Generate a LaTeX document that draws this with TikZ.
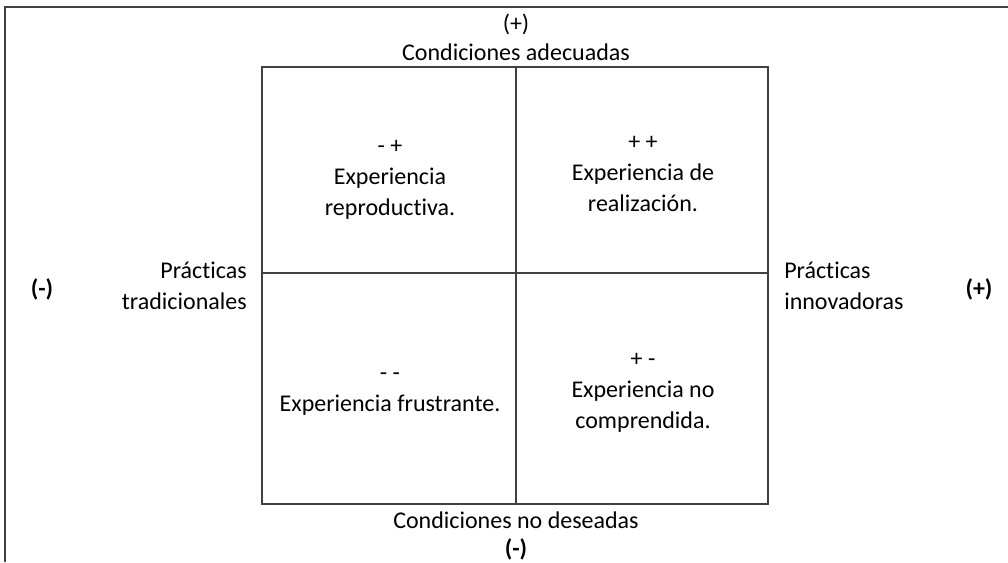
\documentclass[tikz,border=0pt]{standalone}
\usepackage{fontspec}
\setmainfont{Carlito}[Ligatures={NoCommon}]
\usepackage{tikz}
\usetikzlibrary{positioning}

\begin{document}
\begin{tikzpicture}[
    x=0.75pt, y=-0.75pt,
    txt/.style={font=\fontsize{18}{23.3}\selectfont, align=center, inner sep=0pt},
    sign/.style={txt, font=\fontsize{18}{23.3}\selectfont\bfseries},
    grid/.style={draw=black!75, line width=0.8pt}
]
\useasboundingbox (0,0) rectangle (1008,562);

% Frame and quadrants
\coordinate (frameBL) at (5,562);
\coordinate (frameTL) at (5,7);
\coordinate (frameTR) at (1008,7);
\draw[grid] (frameBL) -- (frameTL) -- (frameTR);
\draw[grid] (262,67) rectangle (768,504);
\draw[grid] (516,67) -- (516,504);
\draw[grid] (262,273) -- (768,273);

% Axis labels
\node[txt] (plusTop) at (516,24) {(+)};
\node[txt] (condAdec) at (516,52) {Condiciones adecuadas};
\node[txt] (condNoDes) at (516,520) {Condiciones no deseadas};
\node[sign] (minusBot) at (516,549) {(-)};
\node[sign] (minusLeft) at (42,289) {(-)};
\node[sign] (plusRight) at (979,289) {(+)};
\node[txt, align=right, anchor=east] (tradic) at (247,286) {Prácticas\\tradicionales};
\node[txt, align=left, anchor=west] (innov) at (784,286) {Prácticas\\innovadoras};

% Quadrant texts
\node[txt] (reprod) at (390,180) {- +\\Experiencia\\reproductiva.};
\node[txt] (realiz) at (643,174) {+ +\\Experiencia de\\realización.};
\node[txt] (frustr) at (390,394) {- -\\Experiencia frustrante.};
\node[txt] (nocompr) at (643,393) {+ -\\Experiencia no\\comprendida.};

\end{tikzpicture}
\end{document}
